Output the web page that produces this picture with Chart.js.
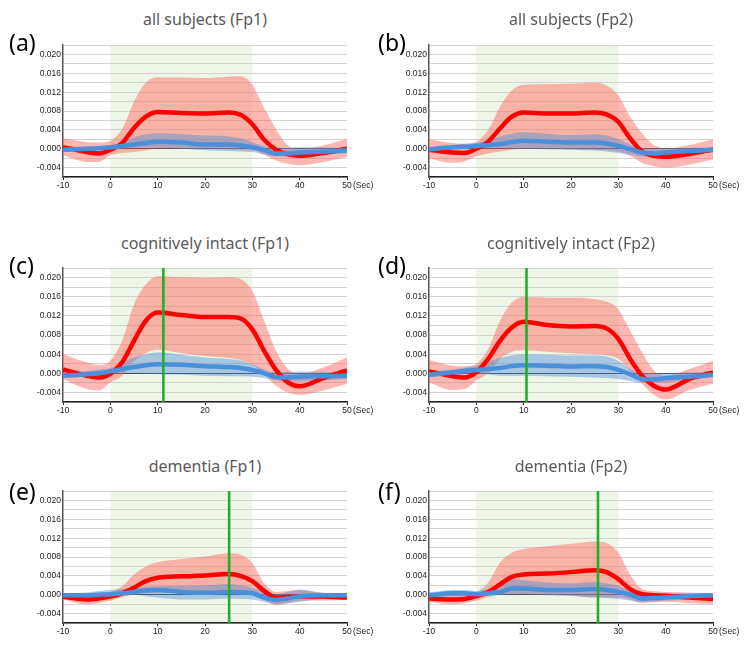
<!DOCTYPE html>
<html>
<head>
<meta charset="utf-8">
<script src="https://cdn.jsdelivr.net/npm/chart.js@4.4.1/dist/chart.umd.min.js"></script>
<style>
  html,body{margin:0;padding:0;background:#fff;}
  #wrap{position:relative;width:750px;height:655px;overflow:hidden;background:#fff;}
  .ttl{position:absolute;text-align:center;font-family:"Noto Sans",sans-serif;font-size:16px;color:#595959;line-height:20px;white-space:nowrap;}
  .lbl{position:absolute;font-family:"Noto Sans",sans-serif;font-size:23px;color:#000;line-height:28px;}
  .sec{position:absolute;font-family:"Liberation Sans",Arial,sans-serif;font-size:8.5px;color:#222;line-height:10px;}
  canvas{position:absolute;}
</style>
</head>
<body>
<div id="wrap"></div>
<script>
// ---- data (seconds relative to stimulus onset) ----
const xs = [-10,-5,-2.5,0,2.5,5,7.5,10,15,20,25,27.5,30,32.5,35,37.5,40,45,50];
const xTicks = [-10,0,10,20,30,40,50];
const yTickLabels = ["-0.004","0.000","0.004","0.008","0.012","0.016","0.020"];
const stimStart = 0, stimEnd = 30;
const titles = ["all subjects (Fp1)","all subjects (Fp2)","cognitively intact (Fp1)","cognitively intact (Fp2)","dementia (Fp1)","dementia (Fp2)"];
const panelLabels = ["(a)","(b)","(c)","(d)","(e)","(f)"];
const markers = [null, null, 11.2, 10.6, 25.1, 25.7];

// (a) all subjects Fp1
const aRed    = [0.00035,-0.0007,-0.001,-0.0002,0.0012,0.0044,0.0068,0.0078,0.0076,0.0075,0.0077,0.0072,0.0052,0.0019,-0.0002,-0.0012,-0.0015,-0.0009,0.0];
const aRedHi  = [0.0022,0.0014,0.0013,0.0017,0.0042,0.010,0.014,0.0152,0.0151,0.015,0.0153,0.0154,0.0136,0.0087,0.0042,0.0007,0.0,0.0007,0.0021];
const aRedLo  = [-0.0014,-0.0028,-0.0028,-0.0014,-0.0009,-0.0007,-0.0003,0.0,0.0,0.0,-0.0001,-0.0002,-0.0003,-0.0012,-0.0025,-0.0032,-0.0035,-0.0028,-0.0017];
const aBlue   = [-0.0002,0.0,0.0001,0.0003,0.0006,0.0009,0.0012,0.0015,0.0013,0.0009,0.0009,0.0007,0.0003,-0.0003,-0.001,-0.001,-0.0008,-0.0006,-0.0003];
const aBlueHi = [0.0002,0.0004,0.0005,0.0007,0.0015,0.0024,0.003,0.0033,0.0031,0.0028,0.0026,0.0022,0.0014,0.0006,0.0,0.0002,0.0003,0.0003,0.0002];
const aBlueLo = [-0.0007,-0.0004,-0.0002,0.0,0.0001,0.0002,0.0002,0.0002,0.0,-0.0003,-0.0005,-0.0006,-0.0007,-0.0012,-0.0017,-0.0016,-0.0014,-0.0012,-0.001];

// (b) all subjects Fp2
const bRed    = [-0.0002,-0.0008,-0.0009,0.0,0.0015,0.0043,0.0068,0.0077,0.0075,0.0075,0.0077,0.0073,0.0057,0.0022,-0.0006,-0.0015,-0.0017,-0.0011,-0.0002];
const bRedHi  = [0.002,0.0012,0.0011,0.0015,0.004,0.0089,0.0124,0.0136,0.0137,0.0138,0.014,0.0134,0.0113,0.0068,0.0033,0.0008,0.0001,0.0008,0.002];
const bRedLo  = [-0.002,-0.003,-0.0027,-0.0016,-0.001,-0.0006,-0.0002,0.0,0.0,-0.0001,-0.0002,-0.0003,-0.0006,-0.0015,-0.003,-0.0037,-0.004,-0.0034,-0.0023];
const bBlue   = [-0.0001,0.0003,0.0004,0.0006,0.0008,0.001,0.0014,0.0017,0.0015,0.0013,0.0013,0.0011,0.0006,-0.0001,-0.0008,-0.001,-0.0008,-0.0005,-0.0002];
const bBlueHi = [0.0003,0.0008,0.001,0.0012,0.0018,0.0026,0.0032,0.0035,0.0032,0.0029,0.0031,0.0028,0.002,0.0009,0.0001,0.0,0.0,0.0002,0.0003];
const bBlueLo = [-0.0006,-0.0002,0.0,0.0001,0.0001,0.0001,0.0,0.0,-0.0001,-0.0002,-0.0004,-0.0006,-0.0009,-0.0013,-0.0017,-0.0016,-0.0013,-0.001,-0.0008];

// (c) cognitively intact Fp1
const cRed    = [0.0008,-0.0005,-0.0009,-0.0001,0.0023,0.0068,0.011,0.0127,0.0122,0.0118,0.0118,0.0115,0.0092,0.0047,0.0007,-0.0019,-0.0027,-0.001,0.0006];
const cRedHi  = [0.004,0.0023,0.0017,0.0026,0.0068,0.0144,0.0186,0.0203,0.0201,0.020,0.0201,0.0197,0.0172,0.011,0.0047,0.0009,-0.0001,0.0012,0.0033];
const cRedLo  = [-0.0012,-0.0033,-0.0036,-0.0019,-0.0005,0.0025,0.0042,0.0049,0.0042,0.0036,0.0032,0.0028,0.0018,-0.0002,-0.0026,-0.004,-0.0045,-0.0036,-0.0022];
const cBlue   = [-0.0005,-0.0002,0.0,0.0004,0.0009,0.0013,0.0017,0.0019,0.0018,0.0015,0.0013,0.0011,0.0007,0.0,-0.0008,-0.0009,-0.0007,-0.0006,-0.0005];
const cBlueHi = [0.0002,0.0005,0.0008,0.0011,0.0022,0.0033,0.004,0.0044,0.0039,0.0033,0.003,0.0027,0.0019,0.0008,0.0002,0.0003,0.0004,0.0003,0.0002];
const cBlueLo = [-0.001,-0.0007,-0.0004,-0.0001,0.0,0.0,-0.0001,-0.0002,-0.0003,-0.0005,-0.0006,-0.0006,-0.0007,-0.001,-0.0015,-0.0017,-0.0017,-0.0015,-0.0012];

// (d) cognitively intact Fp2
const dRed    = [0.0004,-0.0006,-0.0009,0.0002,0.003,0.0068,0.0096,0.0108,0.0101,0.0098,0.0099,0.0094,0.0072,0.003,-0.0005,-0.0026,-0.0034,-0.0012,0.0002];
const dRedHi  = [0.0028,0.0016,0.0015,0.002,0.0051,0.011,0.0148,0.016,0.0158,0.0158,0.0155,0.015,0.0134,0.0089,0.0044,0.0006,-0.0005,0.0009,0.0026];
const dRedLo  = [-0.0019,-0.0035,-0.0033,-0.0015,0.0,0.003,0.0045,0.0048,0.0045,0.0042,0.004,0.0038,0.003,0.0005,-0.0022,-0.0045,-0.0055,-0.0035,-0.0022];
const dBlue   = [-0.0003,0.0002,0.0005,0.0007,0.0009,0.0011,0.0015,0.0017,0.0016,0.0014,0.0015,0.0013,0.0007,-0.0002,-0.0012,-0.0013,-0.001,-0.0007,-0.0003];
const dBlueHi = [0.0002,0.0008,0.0012,0.0016,0.0024,0.0032,0.0037,0.004,0.0039,0.0037,0.0037,0.0035,0.0026,0.0009,0.0,0.0,0.0,0.0002,0.0002];
const dBlueLo = [-0.0008,-0.0004,-0.0002,0.0,-0.0002,-0.0005,-0.0005,-0.0005,-0.0006,-0.0007,-0.0009,-0.001,-0.0012,-0.0016,-0.002,-0.002,-0.0019,-0.0014,-0.0008];

// (e) dementia Fp1
const eRed    = [-0.0004,-0.001,-0.0008,-0.0004,0.0003,0.0015,0.0029,0.0036,0.0039,0.0041,0.0044,0.004,0.0029,0.0008,-0.0006,-0.0005,-0.0003,-0.0004,-0.0006];
const eRedHi  = [0.0001,0.0001,0.0003,0.0006,0.0018,0.0043,0.006,0.0069,0.0076,0.0081,0.0088,0.0085,0.0067,0.0025,0.0006,0.0008,0.001,0.0003,0.0001];
const eRedLo  = [-0.001,-0.002,-0.0018,-0.0013,-0.0005,0.0,0.0003,0.0004,0.0005,0.0006,0.0005,0.0003,0.0,-0.0012,-0.0022,-0.0018,-0.0013,-0.0012,-0.0011];
const eBlue   = [-0.0001,-0.0001,0.0,0.0001,0.0003,0.0006,0.0009,0.001,0.0006,0.0004,0.0006,0.0005,0.0003,-0.0006,-0.0011,-0.0008,-0.0003,-0.0001,-0.0001];
const eBlueHi = [0.0003,0.0005,0.0008,0.001,0.0012,0.0015,0.0017,0.0018,0.0019,0.002,0.0022,0.002,0.0015,0.0006,0.0001,0.0006,0.0011,0.0004,0.0003];
const eBlueLo = [-0.0006,-0.0006,-0.0006,-0.0005,-0.0002,0.0,-0.0003,-0.0006,-0.001,-0.001,-0.0008,-0.0009,-0.001,-0.0015,-0.002,-0.0018,-0.0015,-0.0008,-0.0006];

// (f) dementia Fp2
const fRed    = [-0.0008,-0.001,-0.0009,-0.0003,0.0006,0.0022,0.0038,0.0043,0.0045,0.0048,0.0052,0.0048,0.0033,0.0012,0.0001,-0.0001,-0.0002,-0.0006,-0.0009];
const fRedHi  = [0.0002,0.0004,0.0005,0.0006,0.0026,0.0068,0.0089,0.0097,0.0103,0.0108,0.0113,0.011,0.0089,0.0043,0.0012,0.0008,0.0006,0.0005,0.0003];
const fRedLo  = [-0.0016,-0.002,-0.0018,-0.0013,-0.0005,0.0,0.0001,0.0001,0.0,-0.0002,-0.0006,-0.0006,-0.0006,-0.001,-0.0017,-0.0016,-0.0015,-0.0018,-0.002];
const fBlue   = [-0.0001,0.0003,0.0003,0.0001,0.0003,0.0006,0.0013,0.0013,0.001,0.001,0.0012,0.001,0.0006,0.0,-0.0008,-0.0007,-0.0006,-0.0003,-0.0001];
const fBlueHi = [0.0005,0.001,0.001,0.0008,0.0012,0.0019,0.0033,0.0031,0.0026,0.0024,0.0027,0.0024,0.0019,0.0008,0.0001,0.0002,0.0003,0.0003,0.0003];
const fBlueLo = [-0.0006,-0.0004,-0.0004,-0.0004,-0.0002,0.0,0.0,0.0001,-0.0001,-0.0002,-0.0006,-0.0007,-0.0009,-0.0012,-0.0016,-0.0015,-0.0013,-0.001,-0.0008];

const series = [
  [aRed,aRedHi,aRedLo,aBlue,aBlueHi,aBlueLo],
  [bRed,bRedHi,bRedLo,bBlue,bBlueHi,bBlueLo],
  [cRed,cRedHi,cRedLo,cBlue,cBlueHi,cBlueLo],
  [dRed,dRedHi,dRedLo,dBlue,dBlueHi,dBlueLo],
  [eRed,eRedHi,eRedLo,eBlue,eBlueHi,eBlueLo],
  [fRed,fRedHi,fRedLo,fBlue,fBlueHi,fBlueLo]
];

// ---- layout (pixels) ----
const colLeft = [0, 375];
const yAxisW  = [63, 54];
const padRight = [28, 37];
const rowTop = [44, 267, 490];
const rowH   = [133, 135, 133];
const titleY = [19, 243, 465.5];
const labelY = [42, 265, 491];

const wrap = document.getElementById('wrap');
const TICKFONT = {family:"'Liberation Sans', Arial, sans-serif", size:8.5};

const shadePlugin = {
  id:'stimShade',
  beforeDraw(chart){
    const {ctx, chartArea, scales} = chart;
    const x0 = scales.x.getPixelForValue(stimStart);
    const x1 = scales.x.getPixelForValue(stimEnd);
    ctx.save();
    ctx.fillStyle = '#EEF6E7';
    ctx.fillRect(x0, chartArea.top, x1 - x0, chartArea.bottom - chartArea.top);
    ctx.restore();
  }
};

function pts(arr){ return xs.map((x,i)=>({x:x, y:arr[i]})); }

for (let k = 0; k < 6; k++) {
  const col = k % 2, row = Math.floor(k / 2);
  const padTop = 6, axisH = 26;
  const W = 375, H = padTop + rowH[row] + axisH;
  const left = colLeft[col], top = rowTop[row] - padTop;
  const plotL = left + yAxisW[col], plotR = left + W - padRight[col];

  const cv = document.createElement('canvas');
  cv.width = W; cv.height = H;
  cv.style.left = left + 'px'; cv.style.top = top + 'px';
  cv.style.width = W + 'px'; cv.style.height = H + 'px';
  wrap.appendChild(cv);

  const t = document.createElement('div');
  t.className = 'ttl'; t.textContent = titles[k];
  t.style.left = plotL + 'px'; t.style.width = (plotR - plotL) + 'px';
  t.style.top = (titleY[row] - 10) + 'px';
  wrap.appendChild(t);

  const l = document.createElement('div');
  l.className = 'lbl'; l.textContent = panelLabels[k];
  l.style.left = (left + (col === 0 ? 9 : 3)) + 'px';
  l.style.top = (labelY[row] - 14) + 'px';
  wrap.appendChild(l);

  const s = document.createElement('div');
  s.className = 'sec'; s.textContent = '(Sec)';
  s.style.left = (plotR + 6) + 'px';
  s.style.top = (rowTop[row] + rowH[row] + 3) + 'px';
  wrap.appendChild(s);

  const [red, redHi, redLo, blue, blueHi, blueLo] = series[k];
  const ds = [];
  if (markers[k] !== null) {
    ds.push({data:[{x:markers[k], y:-0.006},{x:markers[k], y:0.022}], borderColor:'#1FB02A', borderWidth:2.6, pointRadius:0, fill:false, order:0});
  }
  ds.push({data:pts(blue), borderColor:'#4A8FDA', borderWidth:4.5, pointRadius:0, fill:false, cubicInterpolationMode:'monotone', order:1});
  ds.push({data:pts(red), borderColor:'#FF0000', borderWidth:4.5, pointRadius:0, fill:false, cubicInterpolationMode:'monotone', order:2});
  ds.push({data:pts(blueHi), borderWidth:0, borderColor:'rgba(0,0,0,0)', backgroundColor:'rgba(80,140,215,0.45)', pointRadius:0, fill:'+1', cubicInterpolationMode:'monotone', order:3});
  ds.push({data:pts(blueLo), borderWidth:0, borderColor:'rgba(0,0,0,0)', pointRadius:0, fill:false, cubicInterpolationMode:'monotone', order:4});
  ds.push({data:pts(redHi), borderWidth:0, borderColor:'rgba(0,0,0,0)', backgroundColor:'rgba(252,95,85,0.45)', pointRadius:0, fill:'+1', cubicInterpolationMode:'monotone', order:5});
  ds.push({data:pts(redLo), borderWidth:0, borderColor:'rgba(0,0,0,0)', pointRadius:0, fill:false, cubicInterpolationMode:'monotone', order:6});

  new Chart(cv, {
    type:'line',
    data:{datasets:ds},
    plugins:[shadePlugin],
    options:{
      responsive:false, animation:false, devicePixelRatio:1,
      layout:{padding:{top:padTop, left:0, right:padRight[col], bottom:0}},
      plugins:{legend:{display:false}, tooltip:{enabled:false}, title:{display:false}},
      scales:{
        x:{
          type:'linear', min:-10, max:50,
          afterFit:(sc)=>{ sc.height = axisH; },
          afterBuildTicks:(sc)=>{ sc.ticks = xTicks.map(v=>({value:v})); },
          ticks:{font:TICKFONT, color:'#222', padding:1, maxRotation:0, autoSkip:false},
          grid:{drawOnChartArea:false, drawTicks:true, tickLength:3, color:'#222', lineWidth:1},
          border:{color:'#222', width:1.5}
        },
        y:{
          min:-0.006, max:0.022,
          afterFit:(sc)=>{ sc.width = yAxisW[col]; },
          ticks:{
            stepSize:0.002, font:TICKFONT, color:'#222', padding:2, autoSkip:false,
            callback:(v)=>{
              const m = Math.round(v*1000);
              const s = (m/1000).toFixed(3);
              return (m % 4 === 0 && yTickLabels.includes(s)) ? s : '';
            }
          },
          grid:{drawTicks:false, lineWidth:1, color:(c)=> (Math.abs(c.tick.value) < 1e-9 ? '#3a3f4a' : '#d3d3d3')},
          border:{color:'#555', width:1.5}
        }
      }
    }
  });
}
</script>
</body>
</html>
